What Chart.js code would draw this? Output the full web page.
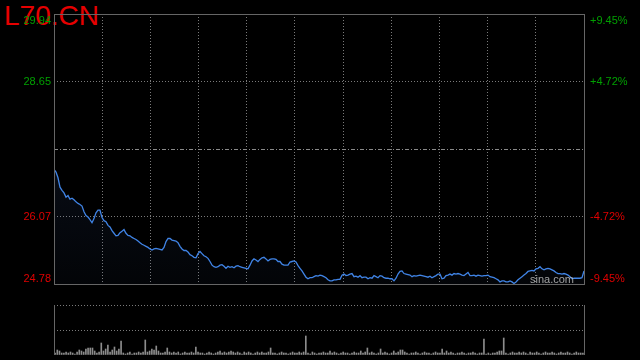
<!DOCTYPE html>
<html lang="zh-CN">
<head>
  <meta charset="UTF-8">
  <title>L70.CN 分时</title>
  <script src="https://cdn.jsdelivr.net/npm/chart.js"></script>
  <style>
    html, body { margin: 0; padding: 0; background: #000; }
    #wrap { position: relative; width: 640px; height: 360px; overflow: hidden; background: #000; }
    #title { position: absolute; left: 4px; top: 2px; font: 28px/28px Arial, "Liberation Sans", sans-serif; color: #e60000; z-index: 0; }
    canvas { position: absolute; left: 0; z-index: 1; }
    #priceChart { top: 0; }
    #volChart { top: 300px; }
  </style>
</head>
<body>
<div id="wrap">
  <div id="title">L70.CN</div>
  <canvas id="priceChart" width="640" height="300"></canvas>
  <canvas id="volChart" width="640" height="60"></canvas>
</div>

<script>
// previous close and axis ticks
const prevClose = 27.36;
const priceTicks = [24.78, 26.07, 27.36, 28.65, 29.94];
const priceLabels = ['24.78', '26.07', '', '28.65', '29.94'];
const pctLabels = ['-9.45%', '-4.72%', '', '+4.72%', '+9.45%'];

// intraday price
const prices = [
  26.97,26.92,26.81,26.63,26.57,26.52,26.44,26.47,26.40,26.42,
  26.39,26.35,26.32,26.30,26.27,26.16,26.09,26.06,26.01,25.95,
  26.03,26.14,26.19,26.19,26.05,25.99,25.97,25.90,25.87,25.80,
  25.75,25.70,25.71,25.76,25.79,25.82,25.75,25.71,25.70,25.67,
  25.65,25.63,25.60,25.57,25.54,25.52,25.50,25.48,25.45,25.43,
  25.45,25.46,25.45,25.44,25.43,25.48,25.59,25.65,25.65,25.62,
  25.61,25.60,25.57,25.50,25.45,25.42,25.42,25.39,25.34,25.32,
  25.29,25.28,25.36,25.40,25.36,25.32,25.30,25.27,25.21,25.14,
  25.11,25.10,25.11,25.14,25.15,25.12,25.08,25.12,25.10,
  25.11,25.09,25.12,25.13,25.11,25.10,25.09,25.08,25.07,25.14,
  25.22,25.26,25.24,25.21,25.25,25.28,25.29,25.26,25.22,25.25,
  25.26,25.26,25.25,25.21,25.21,25.16,25.14,25.14,25.14,25.20,
  25.21,25.22,25.20,25.13,25.08,25.03,24.97,24.91,24.88,24.90,
  24.90,24.92,24.94,24.93,24.95,24.94,24.92,24.90,24.86,24.84,
  24.84,24.86,24.86,24.87,24.87,24.95,24.97,24.94,24.95,24.97,
  24.98,24.92,24.93,24.91,24.94,24.90,24.91,24.91,24.88,24.90,
  24.89,24.94,24.92,24.90,24.94,24.93,24.90,24.89,24.89,24.88,
  24.88,24.84,24.89,24.97,25.02,25.03,24.98,24.97,24.96,
  24.95,24.92,24.94,24.93,24.94,24.95,24.94,24.93,24.92,24.91,
  24.93,24.90,24.92,24.94,24.97,24.97,24.88,24.89,24.94,24.95,
  24.97,24.95,24.98,24.97,24.98,24.97,24.95,24.94,24.97,25.00,
  24.94,24.94,24.95,24.93,24.95,24.94,24.93,24.94,24.94,24.95,
  24.92,24.91,24.90,24.88,24.86,24.82,24.84,24.84,24.82,24.82,
  24.84,24.82,24.79,24.82,24.86,24.89,24.92,24.95,24.98,25.02,
  25.03,25.04,25.03,25.07,25.08,25.11,25.07,25.05,25.07,25.08,
  25.07,25.05,25.03,25.00,24.98,24.98,24.97,24.98,24.97,24.95,
  24.92,24.88,24.89,24.89,24.89,24.89,24.90,25.03
];
const steps = prices.map((p, i) => i);

// per-minute volume (relative units)
const volumes = [
  2,5,4,2,2,3,2,3,2,1, 3,5,4,3,6,7,7,7,4,2,
  3,12,4,6,10,3,5,8,4,6, 14,2,1,2,3,1,2,2,3,2,
  3,15,3,4,6,5,9,4,2,2, 3,7,3,2,3,2,3,1,2,3,
  2,2,3,2,8,3,2,2,1,2, 3,2,1,2,3,4,2,3,2,3,
  4,3,2,3,2,1,3,2,3,2, 1,2,3,2,3,2,2,3,7,2,
  2,1,2,3,2,2,1,2,3,2, 2,3,2,3,19,2,1,3,2,1,
  2,2,3,2,2,4,2,3,2,1, 2,3,2,2,1,2,3,2,2,4,
  2,3,7,2,3,2,1,2,6,2, 3,2,1,2,4,2,3,5,5,3,
  2,1,2,2,3,2,1,2,3,2, 2,1,2,3,2,2,6,2,4,2,
  3,2,1,2,2,3,2,1,2,2, 3,2,1,2,2,16,1,2,1,2,
  2,3,4,4,17,2,1,2,3,2, 2,3,2,3,2,1,3,2,2,3,
  2,1,2,3,2,2,3,2,1,2, 3,2,2,3,2,1,2,3,2,2,
  2
];
const volSlots = volumes.map((v, i) => i);

const FONT = 'Arial, "Liberation Sans", sans-serif';
const UP = '#00a000', DOWN = '#e00000';
const FRAME = '#666', DOTS = '#7a7a7a';

const priceDecor = {
  id: 'priceDecor',
  beforeDatasetsDraw(chart) {
    const { ctx, chartArea: a, scales: { y } } = chart;
    const py = Math.round(y.getPixelForValue(prevClose)) + 0.5;
    ctx.save();
    ctx.strokeStyle = '#8a8a8a';
    ctx.lineWidth = 1;
    ctx.setLineDash([4, 2, 1, 2]);
    ctx.beginPath();
    ctx.moveTo(a.left, py);
    ctx.lineTo(a.right, py);
    ctx.stroke();
    ctx.restore();
  },
  afterDatasetsDraw(chart) {
    const { ctx, chartArea: a } = chart;
    ctx.save();
    ctx.font = '11px ' + FONT;
    ctx.fillStyle = 'rgba(190,190,190,0.85)';
    ctx.textAlign = 'right';
    ctx.textBaseline = 'alphabetic';
    ctx.fillText('sina.com', a.right - 10, a.bottom - 1);
    ctx.restore();
  },
  afterDraw(chart) {
    const { ctx, chartArea: a, scales: { y } } = chart;
    ctx.save();
    ctx.strokeStyle = FRAME;
    ctx.lineWidth = 1;
    ctx.strokeRect(a.left + 0.5, a.top + 0.5, a.right - a.left, a.bottom - a.top);
    ctx.font = '11px ' + FONT;
    priceTicks.forEach((v, i) => {
      if (!priceLabels[i]) return;
      let ty = y.getPixelForValue(v);
      ctx.textBaseline = 'middle';
      if (i === priceTicks.length - 1) { ctx.textBaseline = 'top'; ty += 1; }
      if (i === 0) { ctx.textBaseline = 'bottom'; }
      ctx.fillStyle = v > prevClose ? UP : DOWN;
      ctx.textAlign = 'right';
      ctx.fillText(priceLabels[i], a.left - 3, ty);
      ctx.textAlign = 'left';
      ctx.fillText(pctLabels[i], a.right + 6, ty);
    });
    ctx.restore();
  }
};

new Chart(document.getElementById('priceChart'), {
  type: 'line',
  data: {
    labels: steps,
    datasets: [{
      data: prices,
      borderColor: '#4084e6',
      borderWidth: 1.3,
      pointRadius: 0,
      tension: 0,
      fill: 'start',
      backgroundColor(c) {
        const a = c.chart.chartArea;
        if (!a) return 'rgba(0,0,0,0)';
        const g = c.chart.ctx.createLinearGradient(0, a.top, 0, a.bottom);
        g.addColorStop(0, 'rgba(70,110,190,0.20)');
        g.addColorStop(1, 'rgba(70,110,190,0.04)');
        return g;
      }
    }]
  },
  options: {
    responsive: false,
    animation: false,
    events: [],
    layout: { padding: { top: 14, bottom: 16, right: 56, left: 0 } },
    plugins: { legend: { display: false }, tooltip: { enabled: false } },
    scales: {
      x: {
        type: 'linear',
        min: 0,
        max: steps.length - 1,
        afterBuildTicks: s => { s.ticks = Array.from({ length: 12 }, (_, k) => ({ value: k * (steps.length - 1) / 11 })); },
        afterFit: s => { s.height = 0; },
        ticks: { display: false },
        grid: {
          drawTicks: false,
          color: c => (c.index === 0 || c.index === 11) ? 'rgba(0,0,0,0)' : DOTS
        },
        border: { display: false, dash: [1, 2] }
      },
      y: {
        min: priceTicks[0],
        max: priceTicks[priceTicks.length - 1],
        afterBuildTicks: s => { s.ticks = priceTicks.map(v => ({ value: v })); },
        afterFit: s => { s.width = 54; },
        ticks: { display: false },
        grid: {
          drawTicks: false,
          color: c => (c.index === 1 || c.index === 3) ? DOTS : 'rgba(0,0,0,0)'
        },
        border: { display: false, dash: [1, 2] }
      }
    }
  },
  plugins: [priceDecor]
});

const volDecor = {
  id: 'volDecor',
  afterDraw(chart) {
    const { ctx, chartArea: a } = chart;
    ctx.save();
    ctx.strokeStyle = FRAME;
    ctx.lineWidth = 1;
    ctx.beginPath();
    ctx.moveTo(a.left + 0.5, a.top);
    ctx.lineTo(a.left + 0.5, a.bottom);
    ctx.moveTo(a.right + 0.5, a.top);
    ctx.lineTo(a.right + 0.5, a.bottom);
    ctx.stroke();
    ctx.restore();
  }
};

new Chart(document.getElementById('volChart'), {
  type: 'bar',
  data: {
    labels: volSlots,
    datasets: [{
      data: volumes,
      backgroundColor: '#8c8c8c',
      barThickness: 1
    }]
  },
  options: {
    responsive: false,
    animation: false,
    events: [],
    layout: { padding: { top: 5, bottom: 5, right: 56, left: 0 } },
    plugins: { legend: { display: false }, tooltip: { enabled: false } },
    scales: {
      x: {
        afterFit: s => { s.height = 0; },
        ticks: { display: false },
        grid: { display: false },
        border: { display: false }
      },
      y: {
        min: 0,
        max: 50,
        afterBuildTicks: s => { s.ticks = [0, 25, 50].map(v => ({ value: v })); },
        afterFit: s => { s.width = 54; },
        ticks: { display: false },
        grid: {
          drawTicks: false,
          color: c => c.index === 0 ? 'rgba(0,0,0,0)' : DOTS
        },
        border: { display: false, dash: [1, 2] }
      }
    }
  },
  plugins: [volDecor]
});
</script>
</body>
</html>
